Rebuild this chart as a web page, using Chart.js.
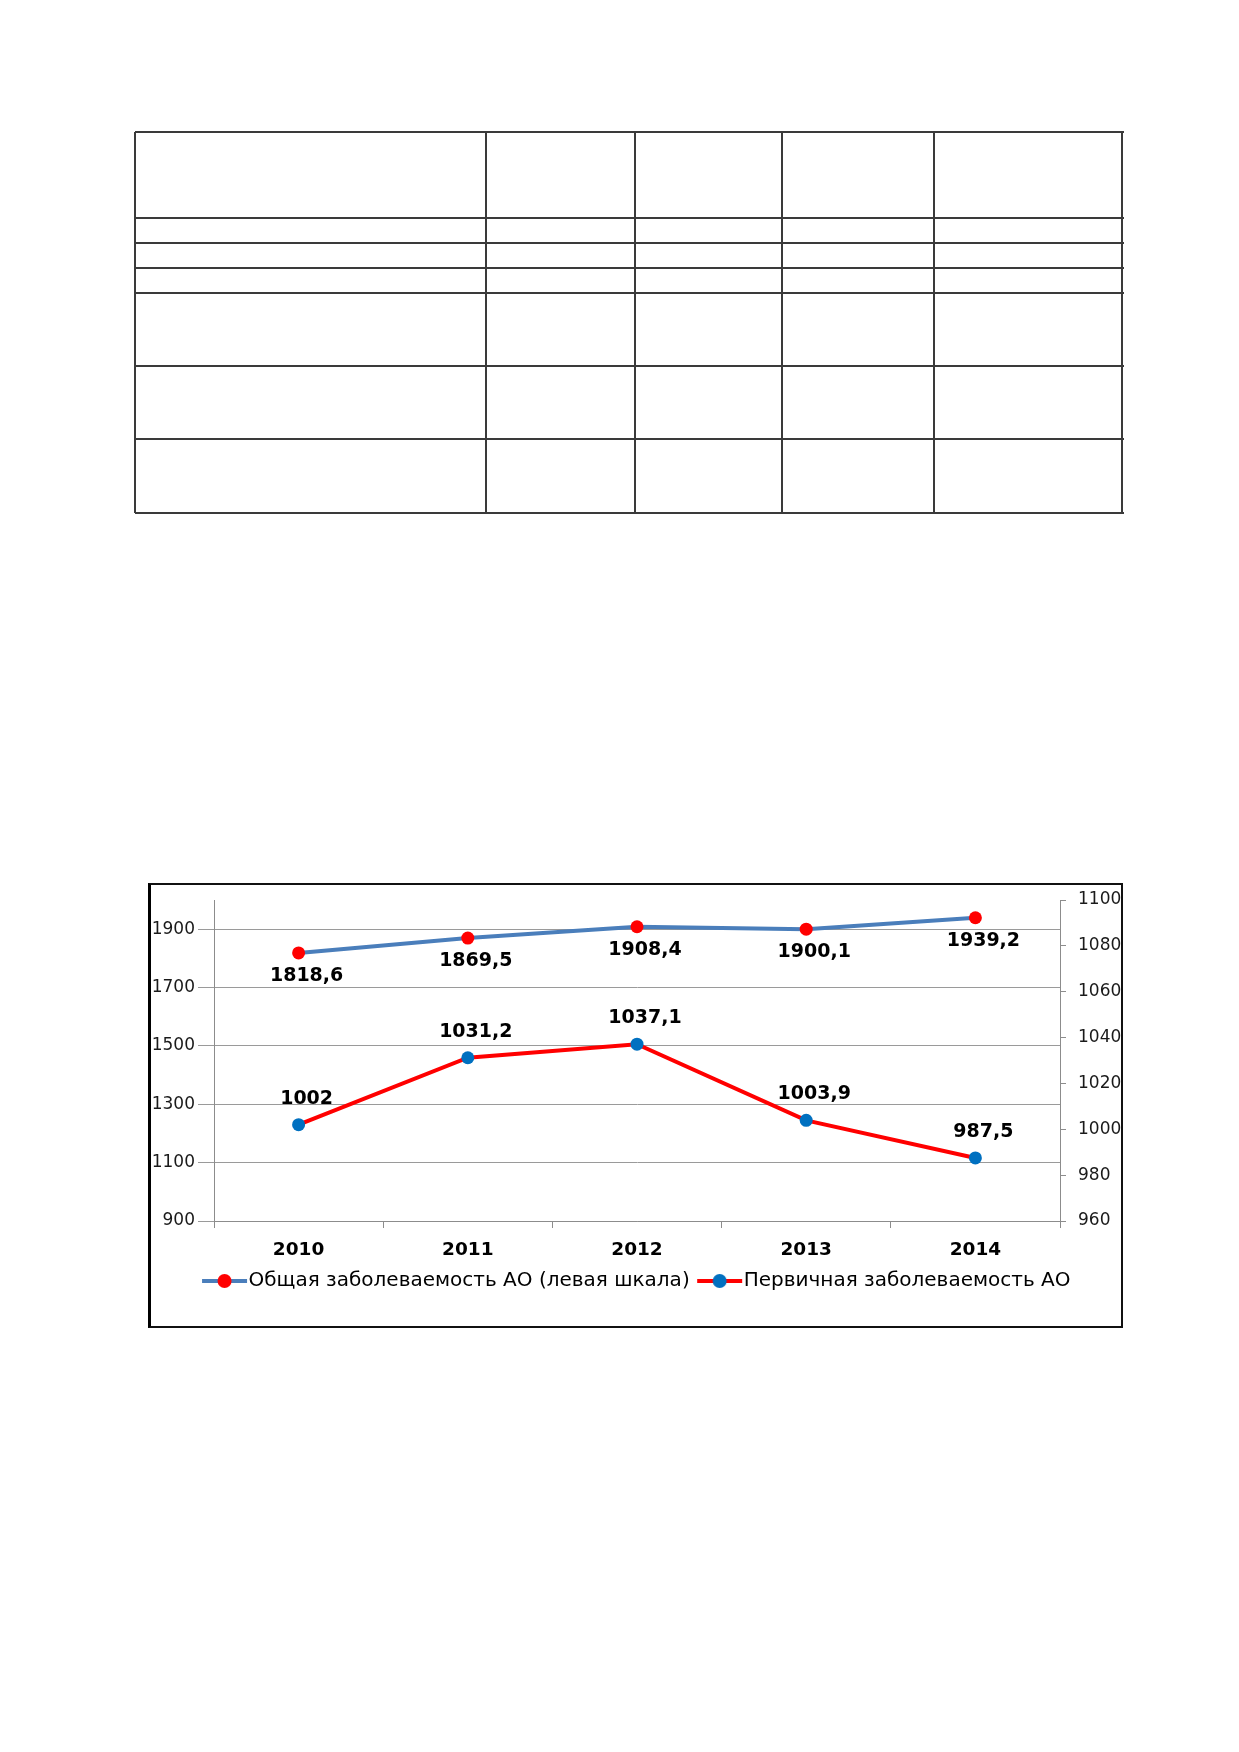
<!DOCTYPE html>
<html>
<head>
<meta charset="utf-8">
<script src="https://cdn.jsdelivr.net/npm/chart.js@4.4.1/dist/chart.umd.min.js"></script>
<style>
  body { margin: 0; background: #fff; width: 1239px; height: 1752px; position: relative; font-family: "DejaVu Sans", sans-serif; }
  .ln { position: absolute; background: #3a3a3a; }
  #frame { position: absolute; left: 148px; top: 883px; width: 970px; height: 441px;
           border: 2px solid #111; border-left: 3px solid #000; }
  #wrap { position: absolute; left: 0; top: 0; width: 970px; height: 441px; }
</style>
</head>
<body>
<div id="grid"></div>
<div id="frame"><div id="wrap"><canvas id="chart"></canvas></div></div>
<script>
  // Chart data
  const years = ["2010", "2011", "2012", "2013", "2014"];
  const totalRate = [1818.6, 1869.5, 1908.4, 1900.1, 1939.2];   // left scale
  const primaryRate = [1002, 1031.2, 1037.1, 1003.9, 987.5];    // right scale
  const leftTicks = [900, 1100, 1300, 1500, 1700, 1900];
  const rightTicks = [960, 980, 1000, 1020, 1040, 1060, 1080, 1100];
  const seriesNames = ["Общая заболеваемость АО (левая шкала)", "Первичная заболеваемость АО"];

  // Empty table above the chart, drawn as plain lines
  const colX = [135, 486, 635, 782, 934, 1122];
  const rowY = [132, 218, 243, 268, 293, 366, 439, 513];
  const grid = document.getElementById("grid");
  const addLine = (l, t, w, h) => {
    const d = document.createElement("div");
    d.className = "ln";
    d.style.left = l + "px"; d.style.top = t + "px";
    d.style.width = w + "px"; d.style.height = h + "px";
    grid.appendChild(d);
  };
  rowY.forEach((y) => addLine(colX[0], y - 1, colX[colX.length - 1] - colX[0] + 2, 2));
  colX.forEach((x) => addLine(x - 1, rowY[0], 2, rowY[rowY.length - 1] - rowY[0]));

  const FONT = "DejaVu Sans";

  // little line+marker picture for the legend (drawn off-centre so it sits
  // flush against the label text)
  const legendIcon = (lineColor, dotColor) => {
    const c = document.createElement("canvas");
    c.width = 56; c.height = 16;
    const g = c.getContext("2d");
    g.strokeStyle = lineColor;
    g.lineWidth = 4;
    g.beginPath(); g.moveTo(10, 8); g.lineTo(55, 8); g.stroke();
    g.fillStyle = dotColor;
    g.beginPath(); g.arc(32.5, 8, 7, 0, Math.PI * 2); g.fill();
    return c;
  };

  // draw the value labels next to the points
  const valueLabels = {
    id: "valueLabels",
    afterDatasetsDraw(chart) {
      const ctx = chart.ctx;
      ctx.save();
      ctx.font = "bold 19px '" + FONT + "'";
      ctx.fillStyle = "#000";
      ctx.textAlign = "center";
      ctx.textBaseline = "middle";
      chart.data.datasets.forEach((ds, i) => {
        const meta = chart.getDatasetMeta(i);
        const dy = i === 0 ? 23 : -26;
        meta.data.forEach((pt, j) => {
          const txt = String(ds.data[j]).replace(".", ",");
          ctx.fillText(txt, pt.x + 8, pt.y + dy);
        });
      });
      ctx.restore();
    },
  };

  // keep the vertical axes from reserving extra room for their end labels
  const fitY = (w) => (s) => { s.width = w; s.paddingTop = 0; s.paddingBottom = 0; };

  const ctx = document.getElementById("chart").getContext("2d");
  new Chart(ctx, {
    type: "line",
    data: {
      labels: years,
      datasets: [
        {
          label: seriesNames[0],
          data: totalRate,
          yAxisID: "y",
          borderColor: "#4A7EBB",
          borderWidth: 4,
          pointRadius: 6.5,
          pointBackgroundColor: "#FF0000",
          pointBorderColor: "#FF0000",
          pointBorderWidth: 0,
          tension: 0,
        },
        {
          label: seriesNames[1],
          data: primaryRate,
          yAxisID: "y1",
          borderColor: "#FF0000",
          borderWidth: 4,
          pointRadius: 6.5,
          pointBackgroundColor: "#0070C0",
          pointBorderColor: "#0070C0",
          pointBorderWidth: 0,
          tension: 0,
        },
      ],
    },
    options: {
      responsive: true,
      maintainAspectRatio: false,
      animation: false,
      devicePixelRatio: 1,
      layout: { padding: { top: 15, bottom: 25, left: 0, right: 0 } },
      plugins: {
        tooltip: { enabled: false },
        legend: {
          position: "bottom",
          labels: {
            color: "#1a1a1a",
            font: { family: FONT, size: 20 },
            usePointStyle: true,
            pointStyleWidth: 37,
            padding: 7,
            generateLabels: () => [
              { text: seriesNames[0], pointStyle: legendIcon("#4A7EBB", "#FF0000"), datasetIndex: 0, lineWidth: 0, strokeStyle: "transparent", fillStyle: "transparent" },
              { text: seriesNames[1], pointStyle: legendIcon("#FF0000", "#0070C0"), datasetIndex: 1, lineWidth: 0, strokeStyle: "transparent", fillStyle: "transparent" },
            ],
          },
        },
      },
      scales: {
        x: {
          offset: true,
          grid: { offset: true, drawOnChartArea: false, drawTicks: true, tickLength: 7, color: "#8c8c8c" },
          border: { display: true, color: "#8c8c8c", width: 1 },
          ticks: { color: "#000", padding: 11, font: { family: FONT, size: 18.5, weight: "bold" } },
          afterFit: (s) => { s.height = 43; },
        },
        y: {
          position: "left",
          min: 900,
          max: 2000,
          afterBuildTicks: (s) => { s.ticks = leftTicks.map((v) => ({ value: v })); },
          grid: { color: "#9a9a9a", tickLength: 16, lineWidth: 1 },
          border: { display: true, color: "#8c8c8c", width: 1 },
          ticks: { color: "#1a1a1a", padding: 3, font: { family: FONT, size: 17 }, callback: (v) => String(v) },
          afterFit: fitY(63),
        },
        y1: {
          position: "right",
          min: 960,
          max: 1100,
          afterBuildTicks: (s) => { s.ticks = rightTicks.map((v) => ({ value: v })); },
          grid: { drawOnChartArea: false, tickLength: 6, color: "#8c8c8c" },
          border: { display: true, color: "#8c8c8c", width: 1 },
          ticks: { color: "#1a1a1a", padding: 12, font: { family: FONT, size: 17 }, callback: (v) => String(v) },
          afterFit: fitY(61),
        },
      },
    },
    plugins: [valueLabels],
  });
</script>
</body>
</html>
